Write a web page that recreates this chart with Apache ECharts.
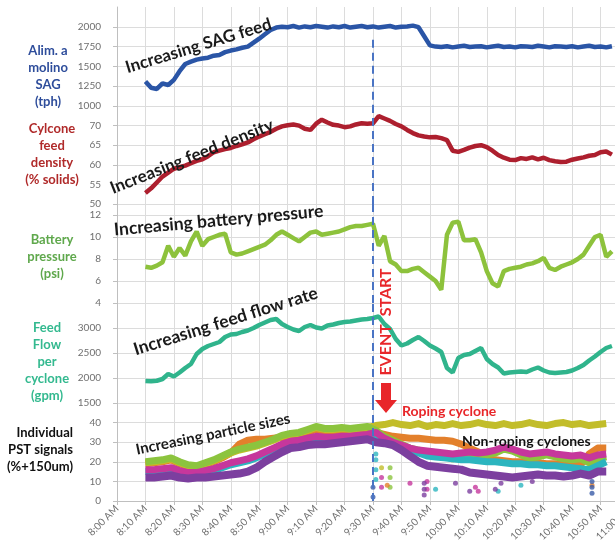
<!DOCTYPE html>
<html><head><meta charset="utf-8">
<script src="https://cdn.jsdelivr.net/npm/echarts@6/dist/echarts.min.js"></script>
<style>html,body{margin:0;padding:0;background:#fff}#c{width:615px;height:552px}</style>
</head><body><div id="c"></div>
<script>
// ---------- DATA ----------
const xTickLabels = ['8:00 AM','8:10 AM','8:20 AM','8:30 AM','8:40 AM','8:50 AM','9:00 AM','9:10 AM','9:20 AM','9:30 AM','9:40 AM','9:50 AM','10:00 AM','10:10 AM','10:20 AM','10:30 AM','10:40 AM','10:50 AM','11:00 AM'];
// minutes after 8:00 AM
const lineTimes = [10,12,14,16,18,20,22,24,26,28,30,32,34,36,38,40,42,44,46,48,50,52,54,56,58,60,62,64,66,68,70,72,74,76,78,80,82,84,86,88,90,92,94,96,98,100,102,104,106,108,110,112,114,116,118,120,122,124,126,128,130,132,134,136,138,140,142,144,146,148,150,152,154,156,158,160,162,164,166,168,170,172,174];
const sagFeed = [1310,1230,1215,1285,1265,1330,1440,1530,1560,1585,1600,1610,1635,1645,1680,1700,1715,1735,1750,1800,1850,1905,1960,1990,2000,1995,2010,1990,2005,1995,2010,2000,1990,2005,1995,2010,1990,2000,2010,1995,2005,1990,2000,2010,1990,2000,2005,2015,1995,1880,1765,1750,1745,1755,1740,1750,1760,1745,1750,1755,1740,1750,1760,1745,1750,1740,1755,1750,1745,1760,1750,1740,1755,1750,1745,1755,1740,1750,1760,1745,1750,1740,1755];
const feedDensity = [52.8,54,55.5,57,58,59,59.4,59.8,60.4,61,61.4,62.2,63.2,63.6,64,64.3,64.8,65.2,65.7,66.5,67.2,67.8,68.4,69.2,69.8,70.1,70.3,70,69.2,68.9,70.5,71.5,70.8,70.2,70,69.6,69.8,70.3,70.6,70.5,70.6,72.4,71.8,71.2,70.4,69.8,68.9,68.1,67.5,67.2,67,67.1,66.8,66.3,63.6,63.3,63.8,64.4,64.8,65,64.5,63.6,62.5,61.8,61.3,61.2,61.7,61.5,61.9,61.4,61.8,61.2,60.9,60.7,60.8,61.3,61.6,61.9,62.3,62.5,63.2,63.4,62.6];
const batteryPressure = [7.3,7.2,7.4,7.7,9.2,8.2,9.0,8.3,9.6,10.5,9.2,9.8,10.0,10.2,10.3,8.6,8.4,8.5,8.7,8.9,9.1,9.3,9.7,10.2,10.5,10.2,9.9,9.6,10.0,10.4,10.5,10.2,10.3,10.4,10.5,10.7,10.9,11.0,11.0,11.1,11.2,9.2,10.1,7.8,7.5,6.9,6.9,7.1,7.2,6.8,6.4,6.0,5.2,10.2,11.3,11.4,9.7,9.7,9.8,8.6,6.9,5.8,5.5,6.9,7.1,7.2,7.3,7.5,7.6,7.8,8.1,7.2,7.0,7.3,7.5,7.7,8.0,8.4,9.2,10.0,10.2,8.2,8.7];
const feedFlow = [1940,1935,1945,1980,2080,2030,2110,2200,2280,2480,2580,2640,2680,2720,2820,2870,2880,2920,2950,3000,3060,3110,3160,3180,3080,3020,2970,2940,3020,3060,3010,2990,3050,3070,3100,3120,3130,3150,3170,3180,3200,3230,3080,2980,2780,2650,2690,2760,2820,2740,2650,2590,2520,2200,2110,2400,2460,2480,2540,2600,2380,2280,2210,2090,2110,2120,2130,2120,2170,2210,2150,2110,2100,2110,2120,2150,2200,2260,2350,2430,2520,2600,2640];

const pstTimes = [10,13,16,19,22,25,28,31,34,37,40,43,46,49,52,55,58,61,64,67,70,73,76,79,82,85,88,91,94,97,100,103,106,109,112,115,118,121,124,127,130,133,136,139,142,145,148,151,154,157,160,163,166,169,172];
const pstOrange = [19,19.5,20,21,19,17.5,17,18.5,20,22,24.5,29,31,31.5,31.5,32,32.5,32,33,35,36.5,35.5,35.5,36,35.5,36,36.5, 35,34,33,32.5,32,32,31.5,31,31,30.5,29,27,25,21,21,20.5,20,20,19.5,19.5,19,19,18.5,18,18.5,24,27,27];
const pstYellow = [19.5,20,20.5,21.5,19.5,18,17.5,19,20.5,22.5,24.5,26,27,28,29.5,31,33,34,34.5,36,37.5,36.5,36.5,37,36.5,37,37.5, 38.5,39,40,39,38.5,39.5,38,39,38.5,39.5,38.5,39,40,39,38.5,39.5,38.5,39,40,39,38.5,39.5,40,39,39.5,38.5,39,39.5];
const pstGreen = [20,20.5,21,22,20,18.5,18,19.5,21,23,25,26.5,27.5,28.5,30,31.5,33.5,34.5,35,36.5,38,37,37,37.5,37,37.5,38, 36,33,31,29,27,26,24,23.5,23,21.5,22.5,23,22.5,23.5,24.5,26.5,25.5,23.5,22,22.5,23.5,22.5,21.5,21,21.5,19.5,21.5,22.5];
const pstTeal = [15,15,15.5,16,14.5,13.5,13.5,14.5,15.5,17,18.5,19.5,20.5,22,24,26,28,29.5,30,31,32,31.5,31.5,32,32,32.5,33, 32,30,29,27.5,26,24.5,23,22.5,22,21.5,21,21,20.5,20,20,19.5,19,19,18.5,18.5,18,18,17.5,17,16.5,16,18,20];
const pstMagenta = [16,16,16.5,17,15.5,14.5,14.5,15.5,16.5,18,19.5,20.5,21.5,23,25,27,29,30.5,31,32,33,32.5,32.5,33,33,33.5,34, 35,32,30,28.5,27,26,25.5,25,24.5,24,24.5,25,24.5,25,26,27.5,26.5,25,24,24.5,25,24,23.5,23,23.5,22,23.5,24];
const pstPurple = [12,12,12.5,13,12,11.5,12,12,12.5,13,13.5,14,15,17,20,22.5,25,27,27.5,28.5,29,29,29.5,30,30.5,31,31.5, 30,29.5,28.5,26,23,20,18,17.5,17,16.5,16,14.5,14,13.5,13,12.5,12,12.5,13,13.5,13,13,12.5,13,14,13,15,15];
// scattered outlier readings [minute, value]
const outTeal = [[91,24],[91,21],[91,16],[91,11],[112,6],[134,5],[142,8]];
const outMagenta = [[93,12],[93,7],[109,6],[109,10],[126,7],[127,5],[103,9]];
const outGreen = [[96,17],[96,12],[96,7]];
const outYellow = [[93,17]];
const outOrange = [[95,8],[167,8]];
const outPurple = [[108,3],[108,6],[108,9],[119,9],[124,5],[133,6],[135,9],[146,10]];
const outBlue = [[167,4],[167,7],[167,10],[167,13],[90,2],[90,7]];

// ---------- CHART ----------
const FONT = 'Lato, "Open Sans", sans-serif';
const chart = echarts.init(document.getElementById('c'), null, {renderer:'canvas'});
const grids = [[7,99],[106,98],[204,99],[303,100],[403,98]];
const yScales = [[1000,2250,250],[50,75,5],[4,13,2],[1500,3500,500],[0,50,10]];
const pair = (ts, vs) => ts.map((t, i) => [t, vs[i]]);
const dash = {symbol:'none', silent:true, animation:false, label:{show:false},
  lineStyle:{color:'#4a74c4', width:2, type:[8,5]}};

function lineS(idx, vals, color, width) {
  return {type:'line', xAxisIndex:idx, yAxisIndex:idx, data:pair(lineTimes, vals), showSymbol:false,
    lineStyle:{color, width}, itemStyle:{color}};
}
function pstS(vals, color, width) {
  return {type:'line', xAxisIndex:4, yAxisIndex:4, data:pair(pstTimes, vals), showSymbol:false,
    lineStyle:{color, width, join:'round'}, itemStyle:{color}};
}
function outS(pts, color) {
  return {type:'scatter', xAxisIndex:4, yAxisIndex:4, data:pts, symbolSize:5, itemStyle:{color}};
}

const series = [
  Object.assign(lineS(0, sagFeed, '#2a55a6', 4.5), {markLine:Object.assign({data:[[{coord:[90,1835]},{coord:[90,1000]}]]}, dash)}),
  Object.assign(lineS(1, feedDensity, '#ad1f2e', 4.5), {markLine:Object.assign({data:[{xAxis:90}]}, dash)}),
  Object.assign(lineS(2, batteryPressure, '#8dc23c', 4.5), {markLine:Object.assign({data:[{xAxis:90}]}, dash)}),
  Object.assign(lineS(3, feedFlow, '#30b48c', 4.5), {markLine:Object.assign({data:[{xAxis:90}]}, dash)}),
  pstS(pstOrange, '#e3802c', 7),
  pstS(pstYellow, '#c2bd2a', 7),
  pstS(pstGreen, '#8cc43e', 7),
  pstS(pstTeal, '#2cb5bf', 7),
  pstS(pstMagenta, '#c6379c', 7),
  pstS(pstPurple, '#7c3f9f', 8),
  outS(outTeal, '#2cb5bf'), outS(outMagenta, '#c6379c'), outS(outGreen, '#8cc43e'),
  outS(outYellow, '#c2bd2a'), outS(outOrange, '#e3802c'), outS(outPurple, '#7c3f9f'),
  Object.assign(outS(outBlue, '#3a5ba8'), {markLine:Object.assign({data:[{xAxis:90}]}, dash)})
];

const title = (x, y, text, fill, align) => ({type:'text', x, y, z:100,
  style:{text, fill, font:'bold 13px ' + FONT, align:align||'center', textAlign:align||'center',
    verticalAlign:'middle', textVerticalAlign:'middle', lineHeight:17}});
const note = (x, y, deg, text, size, fill) => ({type:'text', x, y, rotation:deg*Math.PI/180, z:100,
  style:{text, fill:fill||'#1a1a1a', font:'bold ' + size + 'px ' + FONT, align:'left', textAlign:'left',
    verticalAlign:'middle', textVerticalAlign:'middle'}});

chart.setOption({
  animation:false,
  grid: grids.map(g => ({left:117, width:512, top:g[0], height:g[1], containLabel:false, outerBoundsMode:'none'})),
  xAxis: grids.map((g, i) => ({type:'value', gridIndex:i, min:0, max:180, interval:10,
    axisLine:{show:i===4, onZero:false, lineStyle:{color:'#bfbfbf'}},
    axisTick:{show:i===4, length:4, lineStyle:{color:'#bfbfbf'}},
    axisLabel:{show:i===4, rotate:45, fontSize:10, color:'#6f6f6f', fontFamily:FONT, margin:6,
      formatter:v => xTickLabels[Math.round(v/10)] || '', hideOverlap:false},
    splitLine:{show:true, lineStyle:{color:'#dcdcdc'}}})),
  yAxis: yScales.map((d, i) => ({type:'value', gridIndex:i, min:d[0], max:d[1], interval:d[2], offset:10,
    axisLine:{show:true, lineStyle:{color:'#bfbfbf'}},
    axisTick:{show:true, length:4, lineStyle:{color:'#bfbfbf'}},
    axisLabel:{fontSize:10, color:'#6f6f6f', margin:6, showMaxLabel:false, fontFamily:FONT,
      formatter:v => String(v)},
    splitLine:{show:true, showMaxLine:false, lineStyle:{color:'#dcdcdc'}}})),
  series,
  graphic: [
    title(48, 76, 'Alim. a\nmolino\nSAG\n(tph)', '#2e4d9b'),
    title(52, 154, 'Cylcone\nfeed\ndensity\n(% solids)', '#b02a2a'),
    title(52, 257, 'Battery\npressure\n(psi)', '#5fa84c'),
    title(47, 362, 'Feed\nFlow\nper\ncyclone\n(gpm)', '#33b98f'),
    title(73, 450, 'Individual\nPST signals\n(%+150um)', '#111111', 'right'),
    note(126, 68, 17, 'Increasing SAG feed', 17),
    note(111, 189, 21.8, 'Increasing feed density', 17),
    note(114, 230, 5.2, 'Increasing battery pressure', 17.5),
    note(134, 350, 17.4, 'Increasing feed flow rate', 17.5),
    note(136, 450, 11.6, 'Increasing particle sizes', 15),
    {type:'text', x:386, y:322, rotation:Math.PI/2, z:100,
      style:{text:'EVENT  START', fill:'#e8262a', font:'bold 16px ' + FONT, align:'center', textAlign:'center',
        verticalAlign:'middle', textVerticalAlign:'middle'}},
    {type:'polygon', z:100, shape:{points:[[381,383],[391,383],[391,400],[397,400],[386,413],[375,400],[381,400]]},
      style:{fill:'#e8262a'}},
    {type:'text', x:402, y:411, z:100, style:{text:'Roping cyclone', fill:'#e8262a', font:'bold 14px ' + FONT,
      align:'left', textAlign:'left', verticalAlign:'middle', textVerticalAlign:'middle'}},
    {type:'text', x:462, y:441, z:100, style:{text:'Non-roping cyclones', fill:'#111111', font:'bold 14px ' + FONT,
      align:'left', textAlign:'left', verticalAlign:'middle', textVerticalAlign:'middle'}}
  ]
});
</script></body></html>
